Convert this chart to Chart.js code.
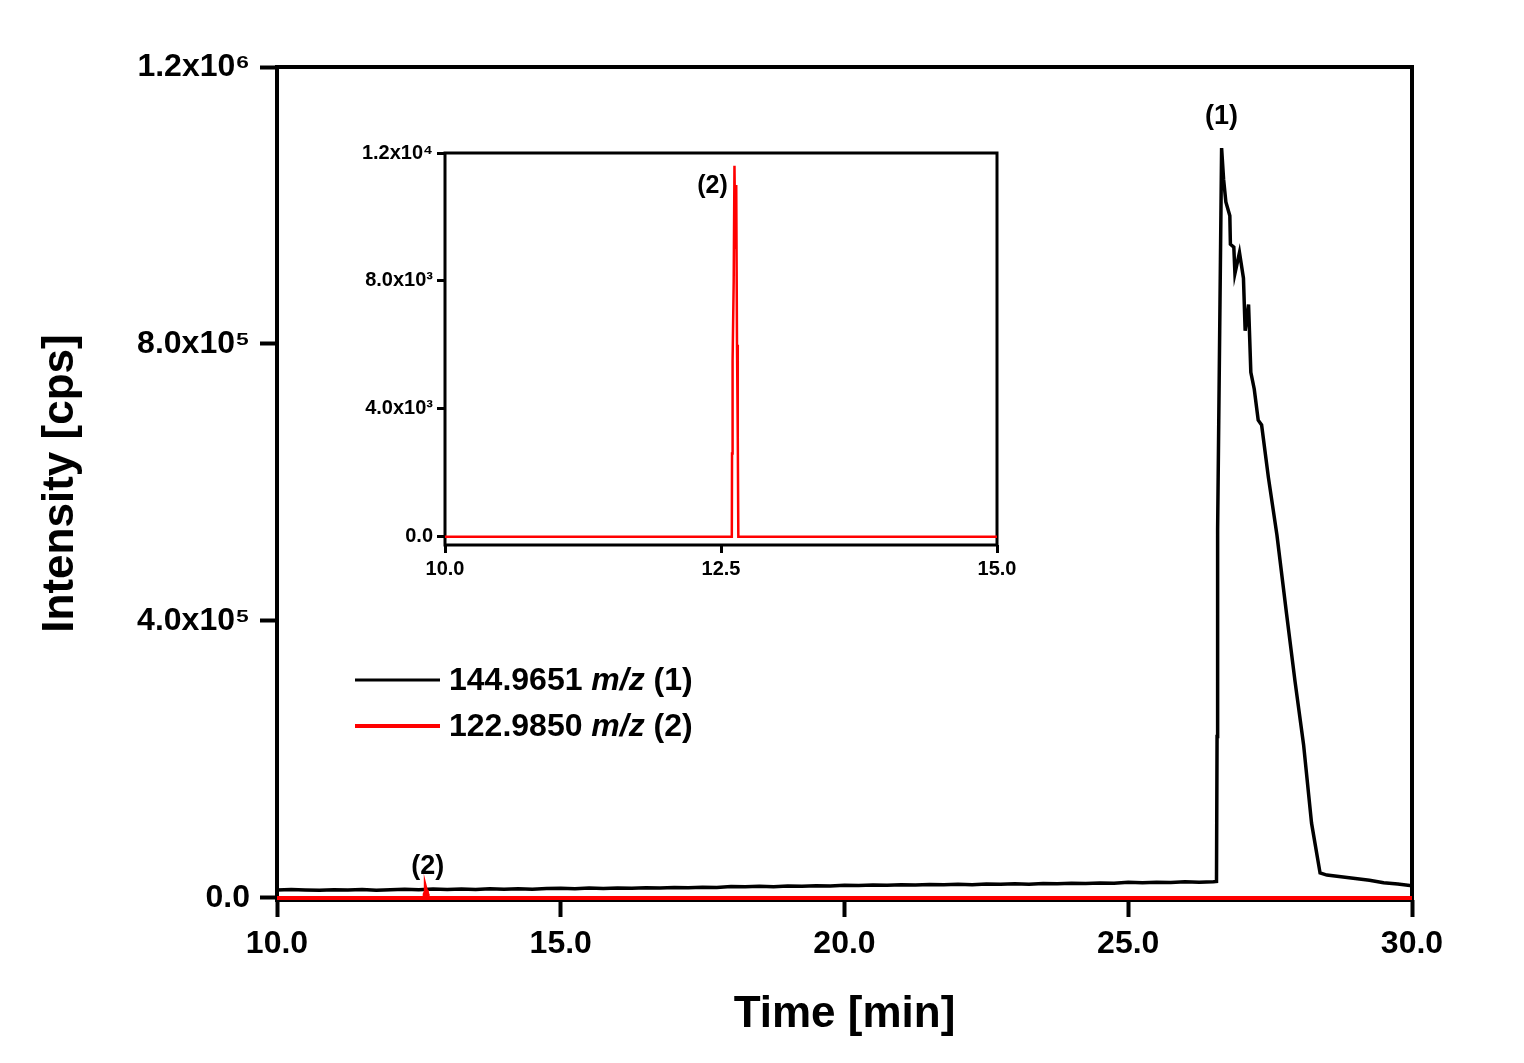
<!DOCTYPE html>
<html>
<head>
<meta charset="utf-8">
<title>Extracted ion chromatogram</title>
<script src="https://cdn.jsdelivr.net/npm/chart.js@4.4.1/dist/chart.umd.min.js"></script>
<style>
    html, body { margin: 0; padding: 0; background: #fff; }
    #wrap { position: relative; width: 1524px; height: 1063px; }
    #main { position: absolute; left: 0; top: 0; width: 1524px; height: 1063px; }
    #inset { position: absolute; left: 345px; top: 130px; width: 700px; height: 460px; }
</style>
</head>
<body>
<div id="wrap">
    <canvas id="main" width="1524" height="1063"></canvas>
    <canvas id="inset" width="700" height="460"></canvas>
</div>
<script>
/* =====================================================
   DATA
   ===================================================== */
// 144.9651 m/z trace, time in min, intensity in cps
var blackTime = [
    10.00, 10.25, 10.50, 10.75, 11.00, 11.25, 11.50, 11.75, 12.00, 12.25, 12.50, 12.75,
    13.00, 13.25, 13.50, 13.75, 14.00, 14.25, 14.50, 14.75, 15.00, 15.25, 15.50, 15.75,
    16.00, 16.25, 16.50, 16.75, 17.00, 17.25, 17.50, 17.75, 18.00, 18.25, 18.50, 18.75,
    19.00, 19.25, 19.50, 19.75, 20.00, 20.25, 20.50, 20.75, 21.00, 21.25, 21.50, 21.75,
    22.00, 22.25, 22.50, 22.75, 23.00, 23.25, 23.50, 23.75, 24.00, 24.25, 24.50, 24.75,
    25.00, 25.25, 25.50, 25.75, 26.00, 26.25, 26.50, 26.555,
    26.565, 26.575, 26.645, 26.68, 26.72, 26.79, 26.80, 26.86, 26.88, 26.96, 27.03, 27.06,
    27.12, 27.16, 27.22, 27.29, 27.35, 27.47, 27.62, 27.79, 27.94, 28.09, 28.23, 28.38,
    28.50, 28.75, 29.00, 29.25, 29.50, 29.75, 30.00
];
var blackIntensity = [
    11500, 12300, 11600, 11000, 11900, 11300, 12200, 11100, 11700, 12500, 11800, 12900,
    12100, 13000, 12300, 13400, 12600, 13300, 12400, 13600, 14000, 13400, 14300, 13700,
    14500, 13900, 14800, 14200, 15100, 14600, 15500, 15200, 16600, 16000, 16900, 16300,
    17300, 16800, 17700, 17100, 18300, 17800, 18700, 18200, 19100, 18500, 19400, 18900,
    19800, 19200, 20100, 19600, 20500, 19900, 20800, 20300, 21200, 20700, 21600, 21100,
    22600, 21900, 22800, 22300, 23200, 22700, 23500, 23800,
    233000, 532000, 1083000, 1038000, 1005000, 985000, 944000, 940000, 902000, 932000, 895000, 819000,
    857000, 759000, 735000, 690000, 683000, 607000, 524000, 410000, 312000, 221000, 108000, 36000,
    33000, 30500, 28000, 25500, 22000, 20000, 17500
];

// 122.9850 m/z trace
var redTime = [10.0, 12.59, 12.598, 12.600, 12.605, 12.615, 12.622, 12.630, 12.638, 12.645, 12.652, 12.657, 12.665, 30.0];
var redIntensity = [0, 0, 0, 2600, 5500, 8000, 11600, 9000, 11000, 6000, 3100, 0, 0, 0];

var seriesNames = ['144.9651', '122.9850'];
var seriesTags = ['(1)', '(2)'];
var seriesColors = ['#000000', '#ff0000'];

var mainXTicks = [10, 15, 20, 25, 30];
var mainYTicks = [0, 400000, 800000, 1200000];
var mainYTickLabels = ['0.0', '4.0x10\u2075', '8.0x10\u2075', '1.2x10\u2076'];

var insetXTicks = [10, 12.5, 15];
var insetYTicks = [0, 4000, 8000, 12000];
var insetYTickLabels = ['0.0', '4.0x10\u00b3', '8.0x10\u00b3', '1.2x10\u2074'];

/* =====================================================
   HELPERS
   ===================================================== */
var FONT = "'Liberation Sans', Arial, sans-serif";
Chart.defaults.font.family = FONT;
Chart.defaults.color = '#000';

function toPoints(xs, ys) {
    return xs.map(function (x, i) { return { x: x, y: ys[i] }; });
}

function fixedTicks(values) {
    return function (scale) {
        scale.ticks = values.map(function (v) { return { value: v }; });
    };
}

var framePlugin = {
    id: 'frame',
    beforeDatasetsDraw: function (chart, args, opts) {
        var a = chart.chartArea, ctx = chart.ctx;
        ctx.save();
        ctx.lineWidth = opts.width || 3;
        ctx.strokeStyle = '#000';
        ctx.strokeRect(a.left, a.top, a.right - a.left, a.bottom - a.top);
        ctx.restore();
    }
};

function axisStyle(tickLen, tickWidth, size, pad) {
    return {
        border: { display: false },
        grid: {
            display: true,
            drawOnChartArea: false,
            drawTicks: true,
            tickLength: tickLen,
            tickWidth: tickWidth,
            tickColor: '#000'
        },
        ticks: {
            autoSkip: false,
            maxRotation: 0,
            padding: pad,
            color: '#000',
            font: { family: FONT, size: size, weight: 'bold' }
        }
    };
}

/* =====================================================
   MAIN CHART
   ===================================================== */
var notesPlugin = {
    id: 'notes',
    afterDraw: function (chart) {
        var ctx = chart.ctx, xs = chart.scales.x, ys = chart.scales.y;
        ctx.save();
        ctx.fillStyle = '#000';
        ctx.textAlign = 'center';
        ctx.textBaseline = 'middle';
        ctx.font = 'bold 27px ' + FONT;

        // peak labels
        var iMax = blackIntensity.indexOf(Math.max.apply(null, blackIntensity));
        ctx.fillText(seriesTags[0], xs.getPixelForValue(blackTime[iMax]), ys.getPixelForValue(blackIntensity[iMax]) - 31);
        var jMax = redIntensity.indexOf(Math.max.apply(null, redIntensity));
        ctx.fillText(seriesTags[1], xs.getPixelForValue(redTime[jMax]) + 2, ys.getPixelForValue(0) - 31);

        // legend
        var lx = 355, ly = 680, gap = 46;
        seriesNames.forEach(function (name, i) {
            var y = ly + i * gap;
            ctx.strokeStyle = seriesColors[i];
            ctx.lineWidth = i === 0 ? 3 : 4;
            ctx.beginPath();
            ctx.moveTo(lx, y);
            ctx.lineTo(lx + 85, y);
            ctx.stroke();

            ctx.textAlign = 'left';
            var x = lx + 94;
            ctx.font = 'bold 32px ' + FONT;
            ctx.fillText(name + ' ', x, y + 1);
            x += ctx.measureText(name + ' ').width;
            ctx.font = 'italic bold 32px ' + FONT;
            ctx.fillText('m/z', x, y + 1);
            x += ctx.measureText('m/z').width;
            ctx.font = 'bold 32px ' + FONT;
            ctx.fillText(' ' + seriesTags[i], x, y + 1);
        });
        ctx.restore();
    }
};

var mainX = axisStyle(17, 4, 32, 8);
mainX.type = 'linear';
mainX.min = 10;
mainX.max = 30;
mainX.afterBuildTicks = fixedTicks(mainXTicks);
mainX.afterFit = function (scale) { scale.height = 163; };
mainX.ticks.callback = function (v) { return Number(v).toFixed(1); };
mainX.title = {
    display: true,
    text: 'Time [min]',
    color: '#000',
    font: { family: FONT, size: 44, weight: 'bold' },
    padding: { top: 0, bottom: 22 }
};

var mainY = axisStyle(17, 4, 32, 10);
mainY.type = 'linear';
mainY.min = -3000;
mainY.max = 1200000;
mainY.afterBuildTicks = fixedTicks(mainYTicks);
mainY.afterFit = function (scale) { scale.width = 277; };
mainY.ticks.callback = function (v) { return mainYTickLabels[mainYTicks.indexOf(v)]; };
mainY.title = {
    display: true,
    text: 'Intensity [cps]',
    color: '#000',
    font: { family: FONT, size: 44, weight: 'bold' },
    padding: { top: 34, bottom: 0 }
};

new Chart(document.getElementById('main').getContext('2d'), {
    type: 'line',
    data: {
        datasets: [
            {
                label: seriesNames[0] + ' m/z ' + seriesTags[0],
                data: toPoints(blackTime, blackIntensity),
                borderColor: seriesColors[0],
                borderWidth: 3.5,
                pointRadius: 0,
                tension: 0,
                order: 1
            },
            {
                label: seriesNames[1] + ' m/z ' + seriesTags[1],
                data: toPoints(redTime, redIntensity),
                borderColor: seriesColors[1],
                borderWidth: 4,
                pointRadius: 0,
                tension: 0,
                order: 0
            }
        ]
    },
    options: {
        responsive: false,
        animation: false,
        devicePixelRatio: 1,
        layout: { padding: { left: 0, top: 67, right: 112, bottom: 0 } },
        plugins: {
            legend: { display: false },
            tooltip: { enabled: false },
            frame: { width: 4 }
        },
        scales: { x: mainX, y: mainY }
    },
    plugins: [framePlugin, notesPlugin]
});

/* =====================================================
   INSET CHART (zoom on 10-15 min)
   ===================================================== */
var insetNotes = {
    id: 'insetNotes',
    afterDraw: function (chart) {
        var ctx = chart.ctx, xs = chart.scales.x, ys = chart.scales.y;
        var jMax = redIntensity.indexOf(Math.max.apply(null, redIntensity));
        ctx.save();
        ctx.fillStyle = '#000';
        ctx.textAlign = 'right';
        ctx.textBaseline = 'middle';
        ctx.font = 'bold 25px ' + FONT;
        ctx.fillText(seriesTags[1], xs.getPixelForValue(redTime[2]) - 4, ys.getPixelForValue(redIntensity[jMax]) + 20);
        ctx.restore();
    }
};

var insetX = axisStyle(8, 3, 20, 4);
insetX.type = 'linear';
insetX.min = 10;
insetX.max = 15;
insetX.afterBuildTicks = fixedTicks(insetXTicks);
insetX.afterFit = function (scale) { scale.height = 45; };
insetX.ticks.callback = function (v) { return Number(v).toFixed(1); };

var insetY = axisStyle(8, 3, 20, 4);
insetY.type = 'linear';
insetY.min = -260;
insetY.max = 12000;
insetY.afterBuildTicks = fixedTicks(insetYTicks);
insetY.afterFit = function (scale) { scale.width = 100; };
insetY.ticks.callback = function (v) { return insetYTickLabels[insetYTicks.indexOf(v)]; };

new Chart(document.getElementById('inset').getContext('2d'), {
    type: 'line',
    data: {
        datasets: [{
            label: seriesNames[1] + ' m/z ' + seriesTags[1],
            data: toPoints(redTime, redIntensity),
            borderColor: seriesColors[1],
            borderWidth: 2.5,
            pointRadius: 0,
            tension: 0
        }]
    },
    options: {
        responsive: false,
        animation: false,
        devicePixelRatio: 1,
        layout: { padding: { left: 0, top: 23, right: 48, bottom: 0 } },
        plugins: {
            legend: { display: false },
            tooltip: { enabled: false },
            frame: { width: 3 }
        },
        scales: { x: insetX, y: insetY }
    },
    plugins: [framePlugin, insetNotes]
});
</script>
</body>
</html>
